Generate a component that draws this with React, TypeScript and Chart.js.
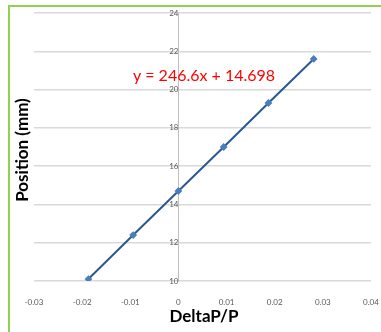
import React, { useEffect, useRef } from "react";
import { Chart, registerables } from "chart.js";

Chart.register(...registerables);

const deltaPOverP = [-0.0187, -0.0094, 0, 0.0094, 0.0187, 0.0281];
const positionMm = [10.1, 12.4, 14.7, 17.0, 19.3, 21.6];
const xRange = [-0.03, 0.04];
const xStep = 0.01;
const yRange = [10, 24];
const yStep = 2;
const xAxisTitle = "DeltaP/P";
const yAxisTitle = "Position (mm)";
const trendlineLabel = "y = 246.6x + 14.698";

const FONT = "Lato, 'Open Sans', sans-serif";

const textPlugin = {
  id: "excelText",
  afterDraw(chart: any) {
    const ctx = chart.ctx;
    ctx.save();
    ctx.fillStyle = "#000000";
    ctx.textAlign = "center";
    ctx.textBaseline = "middle";
    ctx.font = `bold 17px ${FONT}`;
    ctx.fillText(xAxisTitle, 204, 317);
    ctx.translate(23, 150);
    ctx.rotate(-Math.PI / 2);
    ctx.fillText(yAxisTitle, 0, 0);
    ctx.restore();
    ctx.save();
    ctx.fillStyle = "#FF0000";
    ctx.textAlign = "center";
    ctx.textBaseline = "middle";
    ctx.font = `16px ${FONT}`;
    ctx.fillText(trendlineLabel, 204, 76);
    ctx.restore();
  },
};

export default function App() {
  const ref = useRef<HTMLCanvasElement>(null);
  useEffect(() => {
    if (!ref.current) return;
    const chart = new Chart(ref.current, {
      type: "scatter",
      data: {
        datasets: [
          {
            data: deltaPOverP.map((x, i) => ({ x, y: positionMm[i] })),
            showLine: true,
            borderColor: "#2A5890",
            borderWidth: 2,
            backgroundColor: "#4A7EBB",
            pointBackgroundColor: "#4A7EBB",
            pointBorderColor: "#4A7EBB",
            pointStyle: "rectRot",
            pointRadius: 2.5,
          },
        ],
      },
      options: {
        animation: false,
        responsive: false,
        layout: { padding: { left: 34, right: 10, top: 13, bottom: 0 } },
        plugins: { legend: { display: false }, tooltip: { enabled: false } },
        scales: {
          x: {
            type: "linear",
            min: xRange[0],
            max: xRange[1],
            grid: { display: false },
            border: { display: false },
            ticks: {
              stepSize: xStep,
              padding: 9,
              color: "#595959",
              font: { family: FONT, size: 8 },
              callback: (v: any) => String(Number(Number(v).toFixed(2))),
            },
            afterFit: (scale: any) => {
              scale.height = 51;
              scale.paddingLeft = 0;
              scale.paddingRight = 0;
            },
          },
          y: {
            type: "linear",
            position: { x: 0 } as any,
            min: yRange[0],
            max: yRange[1],
            grid: { color: "#D9D9D9", lineWidth: 1.5, drawTicks: false },
            border: { display: true, color: "#BFBFBF", width: 1 },
            ticks: {
              stepSize: yStep,
              padding: 8,
              color: "#595959",
              font: { family: FONT, size: 8 },
            },
            afterFit: (scale: any) => {
              scale.width = 0;
              scale.paddingTop = 0;
              scale.paddingBottom = 0;
            },
          },
        },
      },
      plugins: [textPlugin],
    });
    return () => chart.destroy();
  }, []);
  return (
    <div>
      <div
        style={{
          position: "fixed",
          left: 0,
          top: 0,
          width: 381,
          height: 332,
          background: "#FFFFFF",
        }}
      >
        <canvas ref={ref} width={381} height={332} style={{ display: "block" }} />
      </div>
      <div
        style={{
          position: "fixed",
          left: 8,
          top: 5,
          width: 373,
          height: 327,
          borderLeft: "2px solid #92D050",
          borderTop: "2px solid #92D050",
          boxSizing: "border-box",
          pointerEvents: "none",
        }}
      />
    </div>
  );
}
